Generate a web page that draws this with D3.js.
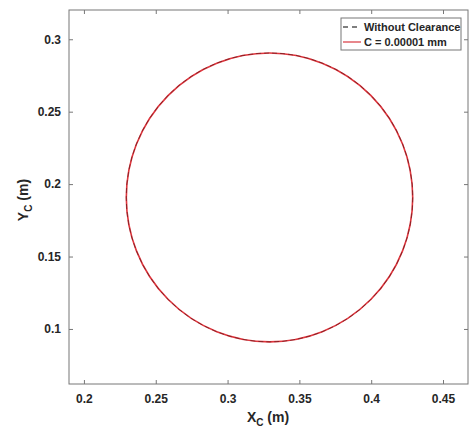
<!DOCTYPE html>
<html><head><meta charset="utf-8">
<script src="https://cdn.jsdelivr.net/npm/d3@7"></script>
<style>
html,body{margin:0;padding:0;background:#fff;}
svg text{font-family:"Liberation Sans",Arial,sans-serif;font-weight:bold;fill:#262626;}
</style></head>
<body><svg id="c" width="469" height="427"></svg>
<script>
const xTicks = [0.2, 0.25, 0.3, 0.35, 0.4, 0.45];
const yTicks = [0.1, 0.15, 0.2, 0.25, 0.3];
const xDomain = [0.1896, 0.4674];
const yDomain = [0.062, 0.3202];
const seriesNames = ["Without Clearance", "C = 0.00001 mm"];
const centerX = [0.3292, 0.3292];
const centerY = [0.1908, 0.1908];
const radius = [0.0997, 0.0997];

const svg = d3.select("#c");
const L = 69, R = 468, T = 10, B = 384;
const x = d3.scaleLinear().domain(xDomain).range([L, R]);
const y = d3.scaleLinear().domain(yDomain).range([B, T]);
const axisColor = "#777";

// box
svg.append("rect").attr("x", L).attr("y", T).attr("width", R - L).attr("height", B - T)
  .attr("fill", "none").attr("stroke", axisColor).attr("stroke-width", 1);

function styleAxis(g) {
  g.select(".domain").remove();
  g.selectAll(".tick line").attr("stroke", axisColor);
  g.selectAll(".tick text").attr("font-size", "12px").attr("fill", "#262626");
}
svg.append("g").attr("transform", `translate(0,${B})`)
  .call(d3.axisBottom(x).tickValues(xTicks).tickFormat(d3.format("")).tickSizeInner(-4).tickPadding(10))
  .call(styleAxis);
svg.append("g").attr("transform", `translate(0,${T})`)
  .call(d3.axisTop(x).tickValues(xTicks).tickFormat("").tickSizeInner(-4))
  .call(styleAxis);
svg.append("g").attr("transform", `translate(${L},0)`)
  .call(d3.axisLeft(y).tickValues(yTicks).tickFormat(d3.format("")).tickSizeInner(-4).tickPadding(8))
  .call(styleAxis);
svg.append("g").attr("transform", `translate(${R},0)`)
  .call(d3.axisRight(y).tickValues(yTicks).tickFormat("").tickSizeInner(-4))
  .call(styleAxis);

// trajectories: red solid first, then black dashed over
[1, 0].forEach(i => {
  svg.append("ellipse")
    .attr("cx", x(centerX[i])).attr("cy", y(centerY[i]))
    .attr("rx", x(centerX[i] + radius[i]) - x(centerX[i]))
    .attr("ry", y(centerY[i]) - y(centerY[i] + radius[i]))
    .attr("fill", "none")
    .attr("stroke", i === 0 ? "#2a0a0a" : "#e0353d")
    .attr("stroke-width", i === 0 ? 0.8 : 1.6)
    .attr("stroke-opacity", i === 0 ? 0.6 : 1)
    .attr("stroke-dasharray", i === 0 ? "5,3" : null);
});

// axis labels
const xl = svg.append("text").attr("x", 268).attr("y", 422).attr("text-anchor", "middle").attr("font-size", "14px");
xl.append("tspan").text("X");
xl.append("tspan").attr("dy", 4).attr("font-size", "10px").text("C");
xl.append("tspan").attr("dy", -4).text(" (m)");
const yl = svg.append("text").attr("transform", "translate(28,200) rotate(-90)").attr("text-anchor", "middle").attr("font-size", "14px");
yl.append("tspan").text("Y");
yl.append("tspan").attr("dy", 4).attr("font-size", "10px").text("C");
yl.append("tspan").attr("dy", -4).text(" (m)");

// legend
const lg = svg.append("g");
lg.append("rect").attr("x", 341).attr("y", 18).attr("width", 120).attr("height", 32)
  .attr("fill", "#fff").attr("stroke", axisColor).attr("stroke-width", 1);
seriesNames.forEach((n, i) => {
  const yy = 27 + i * 15;
  lg.append("line").attr("x1", 343).attr("x2", 361).attr("y1", yy).attr("y2", yy)
    .attr("stroke", i === 0 ? "#000" : "#d9363e").attr("stroke-width", 1.2)
    .attr("stroke-dasharray", i === 0 ? "5,4" : null);
  lg.append("text").attr("x", 364).attr("y", yy + 4).attr("font-size", "11px").text(n);
});
</script></body></html>
